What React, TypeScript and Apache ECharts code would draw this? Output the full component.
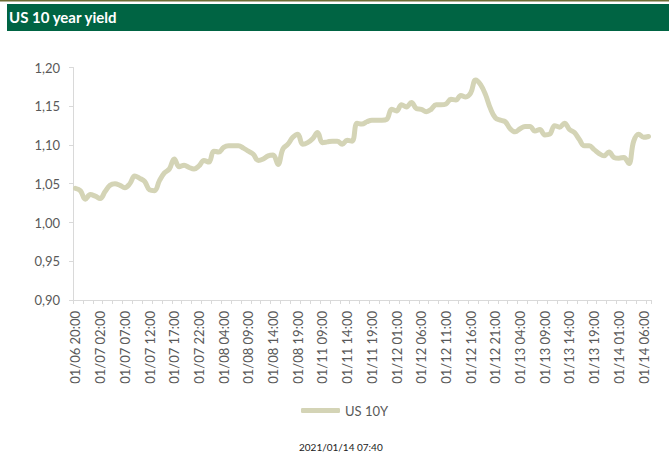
import React, { useEffect, useRef } from "react";
import * as echarts from "echarts";

const title = "US 10 year yield";
const seriesName = "US 10Y";
const footer = "2021/01/14 07:40";

const categories: string[] = [
  "01/06 20:00", "01/06 21:00", "01/06 23:00", "01/07 00:00", "01/07 01:00",
  "01/07 02:00", "01/07 03:00", "01/07 04:00", "01/07 05:00", "01/07 06:00",
  "01/07 07:00", "01/07 08:00", "01/07 09:00", "01/07 10:00", "01/07 11:00",
  "01/07 12:00", "01/07 13:00", "01/07 14:00", "01/07 15:00", "01/07 16:00",
  "01/07 17:00", "01/07 18:00", "01/07 19:00", "01/07 20:00", "01/07 21:00",
  "01/07 22:00", "01/08 00:00", "01/08 01:00", "01/08 02:00", "01/08 03:00",
  "01/08 04:00", "01/08 05:00", "01/08 06:00", "01/08 07:00", "01/08 08:00",
  "01/08 09:00", "01/08 10:00", "01/08 11:00", "01/08 12:00", "01/08 13:00",
  "01/08 14:00", "01/08 15:00", "01/08 16:00", "01/08 17:00", "01/08 18:00",
  "01/08 19:00", "01/08 20:00", "01/08 21:00", "01/11 07:00", "01/11 08:00",
  "01/11 09:00", "01/11 10:00", "01/11 11:00", "01/11 12:00", "01/11 13:00",
  "01/11 14:00", "01/11 15:00", "01/11 16:00", "01/11 17:00", "01/11 18:00",
  "01/11 19:00", "01/11 20:00", "01/11 21:00", "01/11 23:00", "01/12 00:00",
  "01/12 01:00", "01/12 02:00", "01/12 03:00", "01/12 04:00", "01/12 05:00",
  "01/12 06:00", "01/12 07:00", "01/12 08:00", "01/12 09:00", "01/12 10:00",
  "01/12 11:00", "01/12 12:00", "01/12 13:00", "01/12 14:00", "01/12 15:00",
  "01/12 16:00", "01/12 17:00", "01/12 18:00", "01/12 19:00", "01/12 20:00",
  "01/12 21:00", "01/12 23:00", "01/13 01:00", "01/13 02:00", "01/13 03:00",
  "01/13 04:00", "01/13 05:00", "01/13 06:00", "01/13 07:00", "01/13 08:00",
  "01/13 09:00", "01/13 10:00", "01/13 11:00", "01/13 12:00", "01/13 13:00",
  "01/13 14:00", "01/13 15:00", "01/13 16:00", "01/13 17:00", "01/13 18:00",
  "01/13 19:00", "01/13 20:00", "01/13 21:00", "01/13 23:00", "01/14 00:00",
  "01/14 01:00", "01/14 02:00", "01/14 03:00", "01/14 04:00", "01/14 05:00",
  "01/14 06:00", "01/14 07:00",
];

const us10y: number[] = [
  1.044, 1.041, 1.030, 1.036, 1.034, 1.031, 1.040, 1.048, 1.050, 1.048,
  1.045, 1.050, 1.060, 1.057, 1.053, 1.042, 1.041, 1.054, 1.064, 1.069,
  1.082, 1.072, 1.074, 1.071, 1.069, 1.073, 1.080, 1.078, 1.092, 1.091,
  1.097, 1.099, 1.099, 1.099, 1.096, 1.092, 1.088, 1.080, 1.082, 1.086,
  1.087, 1.075, 1.095, 1.101, 1.110, 1.114, 1.101, 1.103, 1.108, 1.116,
  1.103, 1.104, 1.105, 1.105, 1.101, 1.106, 1.105, 1.128, 1.127, 1.130,
  1.132, 1.132, 1.132, 1.133, 1.146, 1.144, 1.152, 1.149, 1.155, 1.147,
  1.146, 1.143, 1.146, 1.152, 1.152, 1.153, 1.159, 1.158, 1.164, 1.162,
  1.167, 1.184, 1.178, 1.165, 1.147, 1.135, 1.132, 1.130, 1.121, 1.117,
  1.121, 1.124, 1.124, 1.118, 1.120, 1.113, 1.114, 1.125, 1.123, 1.128,
  1.120, 1.116, 1.107, 1.099, 1.099, 1.094, 1.089, 1.086, 1.091, 1.084,
  1.083, 1.084, 1.076, 1.105, 1.114, 1.110, 1.111,
];

const yMin = 0.9;
const yMax = 1.2;
const yStep = 0.05;

export default function App() {
  const ref = useRef<HTMLDivElement>(null);
  useEffect(() => {
    if (!ref.current) return;
    const chart = echarts.init(ref.current, undefined, { renderer: "svg" });
    const font = "Lato, 'Open Sans', sans-serif";
    chart.setOption({
      animation: false,
      backgroundColor: "#ffffff",
      textStyle: { fontFamily: font },
      graphic: [
        { type: "rect", left: 0, top: 0, shape: { width: 669, height: 1.5 }, style: { fill: "#6f6d35" } },
        { type: "rect", left: 7, top: 4, shape: { width: 662, height: 27 }, style: { fill: "#006443" } },
        {
          type: "text", left: 9, top: 9,
          style: { text: title, fill: "#ffffff", font: `bold 15px ${font}` },
        },
        {
          type: "text", left: 299, top: 442,
          style: { text: footer, fill: "#222222", font: `10px ${font}` },
        },
      ],
      legend: {
        data: [seriesName],
        bottom: 36,
        left: 296,
        icon: "roundRect",
        itemWidth: 39,
        itemHeight: 5,
        itemGap: 10,
        textStyle: { color: "#595959", fontSize: 13, fontFamily: font },
      },
      grid: { left: 73, right: 18, top: 67.5, bottom: 158, containLabel: false },
      xAxis: {
        type: "category",
        data: categories,
        boundaryGap: true,
        axisLine: { show: true, lineStyle: { color: "#d9d9d9", width: 1 } },
        axisTick: { show: true, interval: 1, length: 4, lineStyle: { color: "#d9d9d9" } },
        axisLabel: {
          interval: 4,
          rotate: 90,
          margin: 11,
          color: "#595959",
          fontSize: 13,
          fontFamily: font,
        },
        splitLine: { show: false },
      },
      yAxis: {
        type: "value",
        min: yMin,
        max: yMax,
        interval: yStep,
        axisLine: { show: true, lineStyle: { color: "#d9d9d9", width: 1 } },
        axisTick: { show: true, length: 4, lineStyle: { color: "#d9d9d9" } },
        axisLabel: {
          margin: 13,
          color: "#595959",
          fontSize: 13,
          fontFamily: font,
          formatter: (v: number) => v.toFixed(2).replace(".", ","),
        },
        splitLine: { show: false },
      },
      series: [
        {
          name: seriesName,
          type: "line",
          data: us10y,
          smooth: 0.4,
          showSymbol: false,
          symbol: "none",
          color: "#d4d4b6",
          lineStyle: { width: 5, color: "#d4d4b6", cap: "round", join: "round" },
        },
      ],
    });
    return () => chart.dispose();
  }, []);
  return (
    <div
      ref={ref}
      style={{ position: "absolute", left: 0, top: 0, width: 669, height: 458 }}
    />
  );
}
